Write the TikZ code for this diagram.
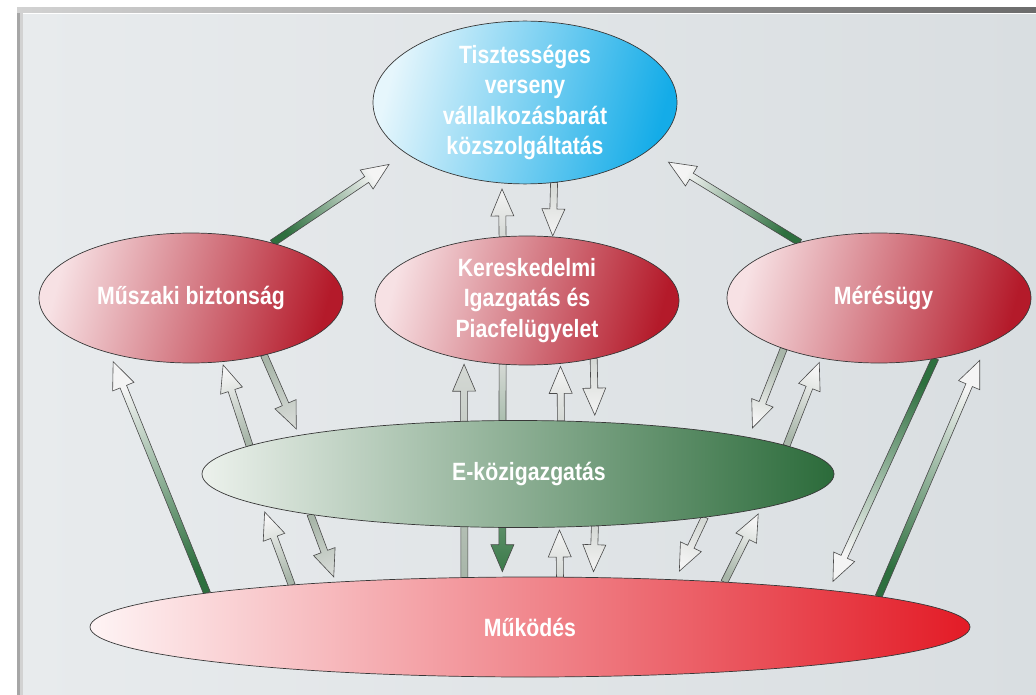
\documentclass[tikz,border=0pt]{standalone}
\usepackage{fontspec}
\setmainfont{Liberation Sans}
\newfontfamily\bubblefont[FakeStretch=0.85]{Liberation Sans}
\usetikzlibrary{shapes.geometric,calc}

\definecolor{edgegray}{HTML}{383838}
\definecolor{shaftgray}{HTML}{4A4A4A}
\definecolor{palehead}{HTML}{F4F4F4}
\definecolor{paletail}{HTML}{A8B6A9}
\definecolor{palemid}{HTML}{D4D8D4}
\definecolor{darkgreen}{HTML}{2D6F3E}
\definecolor{headgreen}{HTML}{3A7A49}
\definecolor{bluel}{HTML}{E6F6FC}
\definecolor{bluer}{HTML}{14ACE8}
\definecolor{redl}{HTML}{F7E1E4}
\definecolor{redr}{HTML}{B41A2A}
\definecolor{greenl}{HTML}{ECF1EC}
\definecolor{greenr}{HTML}{2B6B3A}
\definecolor{basel}{HTML}{FEF4F5}
\definecolor{baser}{HTML}{E31B26}
\definecolor{panell}{HTML}{E8EBED}
\definecolor{panelr}{HTML}{D9DEE1}
\definecolor{barl}{HTML}{D2D2D2}
\definecolor{barr}{HTML}{6C6C6C}

\pgfdeclarelayer{back}
\pgfdeclarelayer{arrows}
\pgfsetlayers{back,arrows,main}

\tikzset{
  bubble/.style={ellipse,draw=edgegray,line width=0.7pt,inner sep=0pt,outer sep=0pt,
    text=white,align=center,font=\bubblefont\bfseries\fontsize{25}{30.5}\selectfont},
  goalbubble/.style={bubble,left color=bluel,right color=bluer,shading angle=75,
    minimum width=304pt,minimum height=159pt},
  redbubble/.style={bubble,left color=redl,right color=redr,shading angle=75,
    minimum width=304pt,minimum height=130pt},
  egovbubble/.style={bubble,left color=greenl,right color=greenr,
    minimum width=632pt,minimum height=107pt},
  basebubble/.style={bubble,left color=basel,right color=baser,
    minimum width=880pt,minimum height=100pt},
  arrowedge/.style={draw=shaftgray,line width=0.6pt}
}

% block arrow: tail, head, gap before head, tail colour, head colour
\newcommand\barrow[5]{%
  \path (#1) coordinate (tl) ($(#2)!#3pt!(#1)$) coordinate (hd);
  \path let \p1=($(hd)-(tl)$) in \pgfextra{%
    \pgfmathsetmacro\arrang{atan2(\y1,\x1)}%
    \pgfmathsetmacro\arrlen{veclen(\x1,\y1)}%
    \global\let\arrang\arrang\global\let\arrlen\arrlen};
  \pgfmathsetmacro\shadeang{\arrang+90}%
  \draw[arrowedge,shift={(tl)},rotate=\arrang,top color=#4,bottom color=#5,shading angle=\shadeang]
    (0,3.5) -- (\arrlen-27,3.5) -- (\arrlen-27,11.5) -- (\arrlen,0)
    -- (\arrlen-27,-11.5) -- (\arrlen-27,-3.5) -- (0,-3.5) -- cycle;
}

\begin{document}
\begin{tikzpicture}[x=1pt,y=-1pt]
  \useasboundingbox (0,0) rectangle (1036,695);

  \node (goal) at (525,102.5) [goalbubble] {Tisztességes\\verseny\\vállalkozásbarát\\közszolgáltatás};
  \node (tech) at (191,298) [redbubble] {Műszaki biztonság};
  \node (trade) at (527,300.5) [redbubble,minimum height=129pt] {Kereskedelmi\\Igazgatás és\\Piacfelügyelet};
  \node (metro) at (879,298) [redbubble] {\hspace*{9pt}Mérésügy};
  \node (egov) at (518,474) [egovbubble] {\hspace*{22pt}E-közigazgatás};
  \node (oper) at (530,627) [basebubble] {Működés};

  \begin{pgfonlayer}{back}
    \fill[white] (0,0) rectangle (1036,695);
    \fill[left color=panell,right color=panelr] (23,15) rectangle (1036,695);
    \fill[left color=barl,right color=barr] (17,8) rectangle (1036,13);
    \fill[gray!70] (17,13) rectangle (20,695);
    \fill[gray!35] (20,13) rectangle (23,695);
  \end{pgfonlayer}

  \begin{pgfonlayer}{arrows}
    \barrow{tech.34.65}{goal.-157.6}{20.3}{darkgreen}{palehead}
    \barrow{trade.111.5}{goal.-106.3}{6}{palemid}{palehead}
    \barrow{goal.-70.95}{trade.68.5}{1}{palemid}{palehead}
    \barrow{metro.145.76}{goal.-21.16}{23.3}{darkgreen}{palehead}

    \barrow{tech.-38.55}{egov.170.62}{7}{paletail}{palemid}
    \barrow{egov.174.19}{tech.-64.57}{3.4}{paletail}{palehead}
    \barrow{oper.174.92}{tech.-146.28}{9.4}{darkgreen}{palehead}

    \barrow{oper.143.6}{trade.-137.57}{5}{paletail}{palemid}
    \barrow{trade.-111.46}{oper.119.3}{5.4}{palemid}{headgreen}
    \barrow{egov.51.6}{trade.-62.34}{3}{palemid}{palehead}
    \barrow{trade.-41.36}{egov.34.72}{7}{palemid}{palehead}
    \barrow{oper.59.83}{egov.-52.3}{3}{palemid}{palehead}
    \barrow{egov.-34.72}{oper.38.15}{5.8}{palemid}{palehead}

    \barrow{oper.170.18}{egov.-173.09}{6.9}{paletail}{palehead}
    \barrow{egov.-169.86}{oper.167.54}{5.6}{paletail}{palemid}
    \barrow{egov.-13.62}{oper.18.56}{9.5}{palemid}{palehead}
    \barrow{oper.13.64}{egov.-8.83}{6.4}{paletail}{palehead}

    \barrow{metro.-152.54}{egov.9.6}{10.2}{paletail}{palehead}
    \barrow{egov.6.62}{metro.-134.56}{4.6}{paletail}{palehead}
    \barrow{metro.-47.0}{oper.7.74}{9.8}{darkgreen}{palehead}
    \barrow{oper.5.86}{metro.-23.19}{18}{darkgreen}{palehead}
  \end{pgfonlayer}
\end{tikzpicture}
\end{document}
